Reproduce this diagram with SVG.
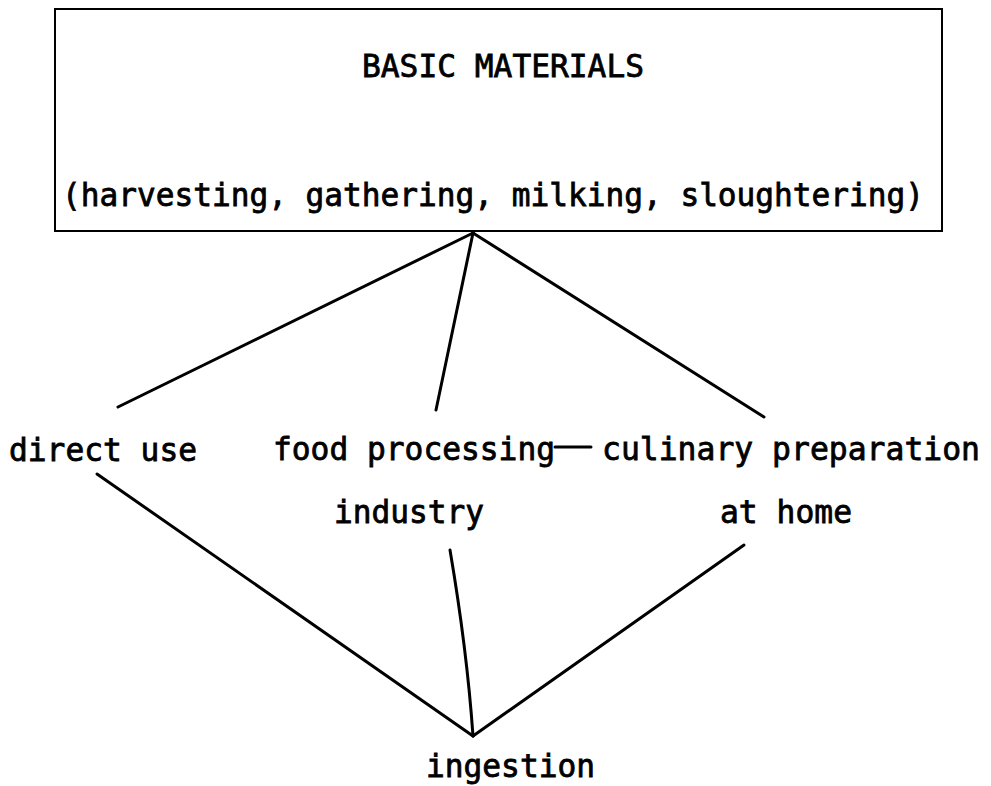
<svg xmlns="http://www.w3.org/2000/svg" width="991" height="786" viewBox="0 0 991 786">
<style>
.t{font-family:"DejaVu Sans Mono","Liberation Mono",monospace;font-size:31.5px;fill:#000;stroke:#000;stroke-width:0.8}
.box{fill:#fff;stroke:#000;stroke-width:2}
.c{fill:none;stroke:#000;stroke-width:3;stroke-linecap:round}
</style>
<rect width="991" height="786" fill="#fff"/>
<g id="basic-materials">
<rect class="box" x="55" y="9" width="887" height="222"/>
<text class="t" x="362" y="77" textLength="282" lengthAdjust="spacingAndGlyphs">BASIC MATERIALS</text>
<text class="t" x="62" y="206" textLength="862" lengthAdjust="spacingAndGlyphs">(harvesting, gathering, milking, sloughtering)</text>
</g>
<g id="direct-use">
<text class="t" x="9" y="461" textLength="188" lengthAdjust="spacingAndGlyphs">direct use</text>
</g>
<g id="food-processing">
<text class="t" x="273" y="460" textLength="282" lengthAdjust="spacingAndGlyphs">food processing</text>
<text class="t" x="334" y="523" textLength="150" lengthAdjust="spacingAndGlyphs">industry</text>
</g>
<g id="culinary-preparation">
<text class="t" x="602" y="460" textLength="378" lengthAdjust="spacingAndGlyphs">culinary preparation</text>
<text class="t" x="720" y="523" textLength="132" lengthAdjust="spacingAndGlyphs">at home</text>
</g>
<g id="ingestion">
<text class="t" x="426" y="777" textLength="169" lengthAdjust="spacingAndGlyphs">ingestion</text>
</g>
<g id="connectors">
<line class="c" x1="473" y1="233" x2="118" y2="407"/>
<line class="c" x1="473" y1="233" x2="436" y2="410"/>
<line class="c" x1="473" y1="233" x2="764" y2="417"/>
<line class="c" x1="555" y1="447" x2="591" y2="447"/>
<line class="c" x1="97" y1="474" x2="473" y2="736"/>
<path class="c" d="M450 550 Q467 650 473 736"/>
<line class="c" x1="744" y1="545" x2="473" y2="736"/>
</g>
</svg>
